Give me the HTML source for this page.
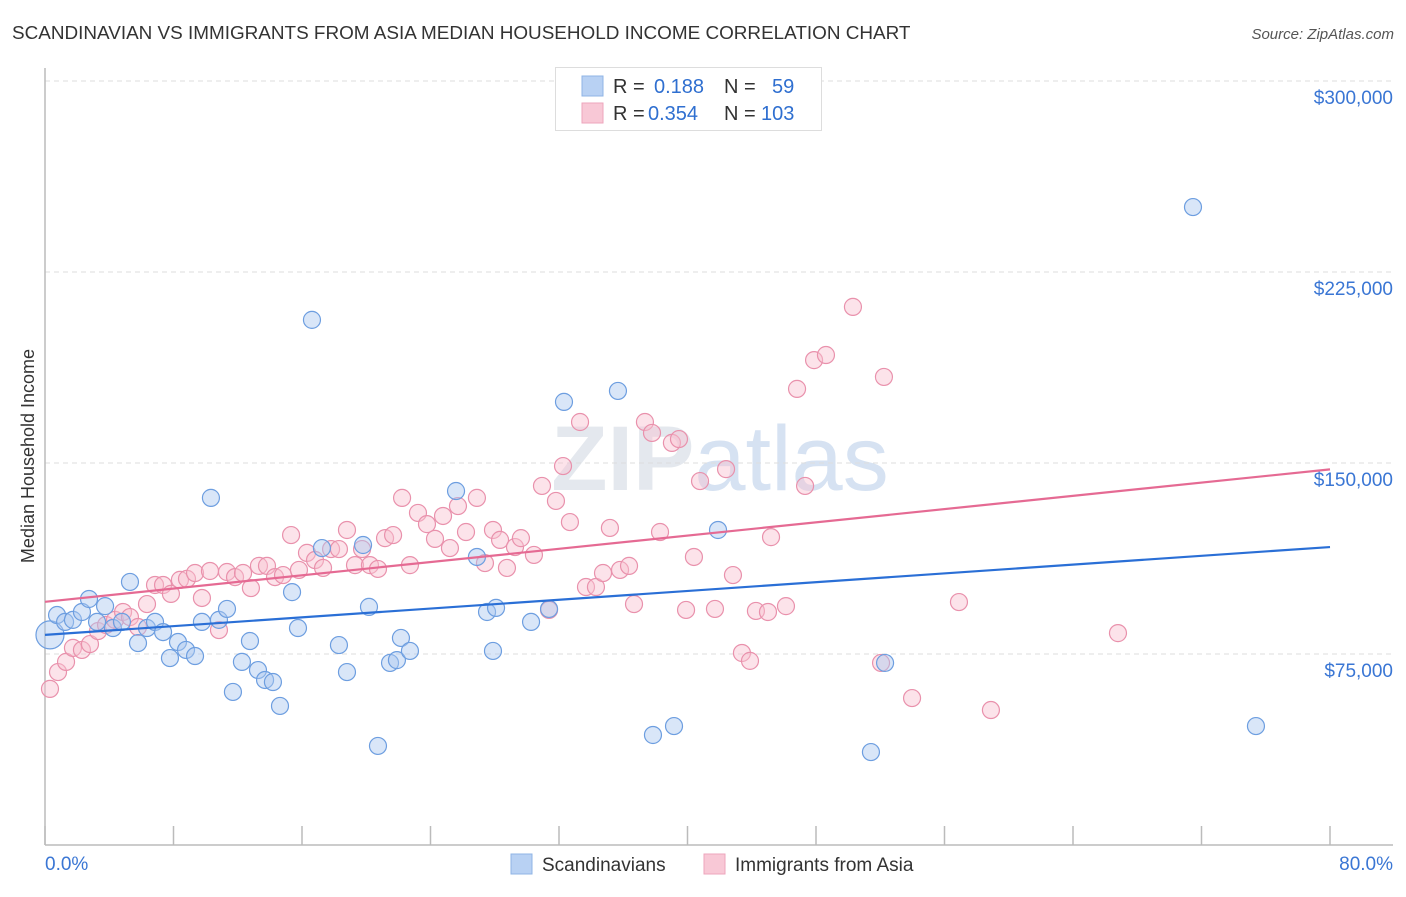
<!DOCTYPE html>
<html><head><meta charset="utf-8">
<style>
body{margin:0;background:#fff;font-family:"Liberation Sans",sans-serif;}
svg text{font-family:"Liberation Sans",sans-serif;}
</style></head>
<body>
<svg id="chart" width="1406" height="892" viewBox="0 0 1406 892" xmlns="http://www.w3.org/2000/svg">
<rect width="1406" height="892" fill="#fff"/>
<text x="12" y="39" font-size="18.9" fill="#333">SCANDINAVIAN VS IMMIGRANTS FROM ASIA MEDIAN HOUSEHOLD INCOME CORRELATION CHART</text>
<text x="1394" y="39" font-size="15" fill="#555" text-anchor="end" font-style="italic">Source: ZipAtlas.com</text>
<text transform="translate(34,456) rotate(-90)" font-size="18" fill="#333" text-anchor="middle">Median Household Income</text>
<text x="720" y="490" font-size="92" fill="#e4e8ee" text-anchor="middle" font-family="Liberation Serif" font-weight="bold">ZIP<tspan fill="#d6e2f2" font-family="Liberation Sans" font-weight="normal">atlas</tspan></text>
<g id="grid"></g>
<g id="axes"></g>
<g id="points"></g>
<g id="lines"></g>
<g>
<rect x="555.5" y="67.5" width="266" height="63" fill="#fff" stroke="#ddd"/>
<rect x="582" y="76" width="21" height="20" fill="#b8d1f3" stroke="#8fb4e6"/>
<rect x="582" y="103" width="21" height="20" fill="#f8c8d6" stroke="#eea6bc"/>
<text x="613" y="93" font-size="20" fill="#333">R = <tspan fill="#2f6fd0" x="654">0.188</tspan><tspan fill="#333" x="724">N =</tspan><tspan fill="#2f6fd0" x="772">59</tspan></text>
<text x="613" y="120" font-size="20" fill="#333">R = <tspan fill="#2f6fd0" x="648">0.354</tspan><tspan fill="#333" x="724">N =</tspan><tspan fill="#2f6fd0" x="761">103</tspan></text>
</g>
<g>
<rect x="511" y="854" width="21" height="20" fill="#b8d1f3" stroke="#8fb4e6"/>
<text x="542" y="871" font-size="19" fill="#333">Scandinavians</text>
<rect x="704" y="854" width="21" height="20" fill="#f8c8d6" stroke="#eea6bc"/>
<text x="735" y="871" font-size="19" fill="#333">Immigrants from Asia</text>
</g>
</svg>
<script>
const yTicks=[75,150,225,300];
const yTickLabels=["$75,000","$150,000","$225,000","$300,000"];
const xTicks=[0,8,16,24,32,40,48,56,64,72,80];
const xEndLabels=["0.0%","80.0%"];
const blueX=[0.31,0.75,1.25,1.74,2.30,2.74,3.24,3.74,4.23,4.79,5.29,5.79,6.35,6.85,7.35,7.78,8.28,8.78,9.34,9.77,10.33,10.83,11.33,11.70,12.26,12.76,13.26,13.70,14.19,14.63,15.38,15.75,16.62,17.24,18.30,18.80,19.80,20.17,20.73,21.48,21.91,22.16,22.72,25.59,26.89,27.52,27.89,28.08,30.26,31.38,32.31,35.67,37.85,39.16,41.90,51.42,52.30,71.47,75.39];
const blueY=[82.5,90.3,87.6,88.4,91.5,96.6,87.6,93.8,85.2,87.6,103.3,79.3,85.2,87.6,83.6,73.4,79.7,76.6,74.2,87.6,136.3,88.4,92.7,60.1,71.9,80.1,68.7,64.8,64.0,54.6,99.3,85.2,206.2,116.6,78.5,67.9,117.8,93.5,38.9,71.5,72.6,81.3,76.2,139.0,113.1,91.5,76.2,93.1,87.6,92.7,174.0,178.3,43.2,46.7,123.7,36.5,71.5,250.5,46.7];
const pinkX=[0.31,0.81,1.31,1.74,2.30,2.80,3.30,3.80,4.36,4.86,5.29,5.79,6.35,6.85,7.35,7.84,8.40,8.84,9.34,9.77,10.27,10.83,11.33,11.83,12.33,12.82,13.32,13.82,14.32,14.82,15.32,15.81,16.31,16.81,17.31,17.81,18.30,18.80,19.30,19.74,20.23,20.73,21.17,21.67,22.23,22.72,23.22,23.78,24.28,24.78,25.21,25.71,26.21,26.89,27.39,27.89,28.33,28.76,29.26,29.63,30.44,30.94,31.38,31.81,32.25,32.68,33.31,33.68,34.30,34.74,35.17,35.80,36.36,36.67,37.35,37.79,38.29,39.03,39.47,39.91,40.40,40.78,41.71,42.40,42.83,43.39,43.89,44.26,45.01,45.20,46.13,46.82,47.32,47.88,48.62,50.30,52.05,52.23,53.98,56.90,58.89,66.80];
const pinkY=[61.3,67.9,71.9,77.4,76.6,78.9,84.0,86.4,88.4,91.5,89.5,85.6,94.6,102.1,102.1,98.6,104.1,104.5,106.8,97.0,107.6,84.4,107.2,105.2,106.8,100.9,109.6,109.6,105.2,106.0,121.7,108.0,114.7,111.9,108.8,116.2,116.2,123.7,109.9,116.2,109.9,108.4,120.5,121.7,136.3,109.9,130.4,126.0,120.2,129.2,116.6,133.1,122.9,136.3,110.7,123.7,119.8,108.8,117.0,120.5,113.9,141.0,92.3,135.1,148.8,126.8,166.1,101.3,101.3,106.8,124.5,108.0,109.6,94.6,166.1,161.8,122.9,157.9,159.4,92.3,113.1,142.9,92.7,147.6,106.0,75.4,72.3,91.9,91.5,120.9,93.8,179.1,141.0,190.4,192.4,211.3,71.5,183.8,57.7,95.4,53.0,83.2];
const blueTrend=[82.5,117.0];
const pinkTrend=[95.5,147.5];

const NS="http://www.w3.org/2000/svg";
const X0=45,X1=1330,Y0=845,YPER=191/75;
const sx=v=>X0+(v/80)*(X1-X0);
const sy=v=>Y0-v*YPER;
function mk(tag,attrs,parent){const e=document.createElementNS(NS,tag);for(const k in attrs)e.setAttribute(k,attrs[k]);document.getElementById(parent).appendChild(e);return e;}

yTicks.forEach((t,i)=>{
  const l=mk('line',{x1:X0,x2:1393,y1:sy(t),y2:sy(t),stroke:'#ddd','stroke-dasharray':'5,4'},'grid');
  
  
  const tx=mk('text',{x:1393,y:sy(t)+23,'font-size':19,fill:'#3a76d4','text-anchor':'end'},'grid');
  
  
  tx.textContent=yTickLabels[i];
});
const ax=mk('line',{x1:X0,x2:X0,y1:68,y2:Y0,stroke:'#bbb','stroke-width':1.5},'axes');


const bx=mk('line',{x1:X0,x2:1393,y1:Y0,y2:Y0,stroke:'#bbb','stroke-width':1.5},'axes');


xTicks.forEach(t=>{
  const l=mk('line',{x1:sx(t),x2:sx(t),y1:826,y2:Y0,stroke:'#bbb','stroke-width':1.5},'axes');
  
  
});
const xl0=mk('text',{x:X0,y:870,'font-size':19,fill:'#3a76d4'},'axes');


xl0.textContent=xEndLabels[0];
const xl1=mk('text',{x:1393,y:870,'font-size':19,fill:'#3a76d4','text-anchor':'end'},'axes');


xl1.textContent=xEndLabels[1];

function drawPts(xs,ys,fill,stroke,name){
  xs.forEach((x,i)=>{
    const r=(i===0&&name==='scandinavian-point')?14:8.5;
    const c=mk('circle',{cx:sx(x),cy:sy(ys[i]),r:r,fill:fill,'fill-opacity':0.45,stroke:stroke,'stroke-width':1.2},'points');
    
    
  });
}
drawPts(pinkX,pinkY,'#f8c0d0','#e991ac','asia-point');
drawPts(blueX,blueY,'#aac8f0','#6d9ee0','scandinavian-point');

const bl=mk('line',{x1:sx(0),x2:sx(80),y1:sy(blueTrend[0]),y2:sy(blueTrend[1]),stroke:'#2a6fd6','stroke-width':2.2},'lines');


const pl=mk('line',{x1:sx(0),x2:sx(80),y1:sy(pinkTrend[0]),y2:sy(pinkTrend[1]),stroke:'#e56a93','stroke-width':2.2},'lines');


</script>
</body></html>
